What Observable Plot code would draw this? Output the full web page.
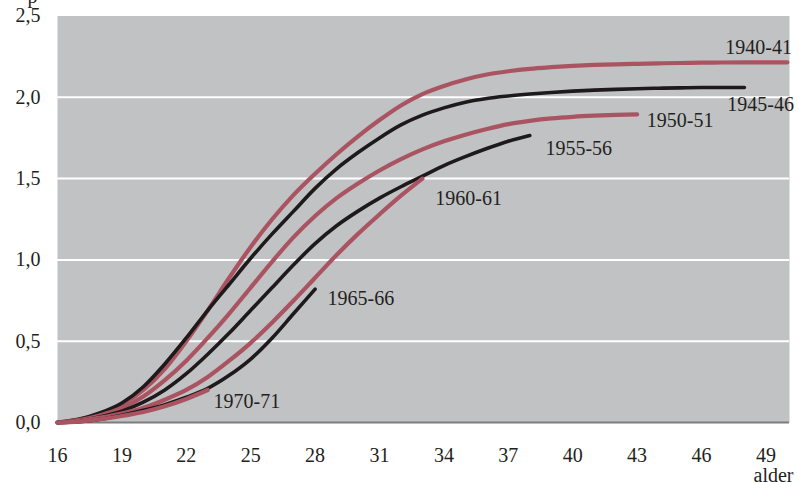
<!DOCTYPE html>
<html><head><meta charset="utf-8">
<script src="https://cdn.jsdelivr.net/npm/d3@7"></script>
<script src="https://cdn.jsdelivr.net/npm/@observablehq/plot@0.6"></script>
<style>body{margin:0;background:#fff;}</style>
</head><body><div id="chart"></div>
<script>
// Cumulative fertility by age, cohorts (all series start at age 16)
const cohorts = ["1940-41", "1945-46", "1950-51", "1955-56", "1960-61", "1965-66", "1970-71"];
const c1940_41 = [0.00,0.02,0.05,0.11,0.20,0.33,0.50,0.69,0.89,1.08,1.25,1.40,1.53,1.65,1.76,1.86,1.95,2.02,2.07,2.11,2.14,2.16,2.175,2.185,2.193,2.199,2.203,2.206,2.209,2.211,2.213,2.214,2.215,2.215,2.215];
const c1945_46 = [0.00,0.02,0.06,0.12,0.22,0.36,0.52,0.69,0.85,1.01,1.16,1.30,1.44,1.56,1.66,1.75,1.83,1.89,1.935,1.97,1.993,2.008,2.02,2.03,2.038,2.044,2.049,2.053,2.056,2.058,2.06,2.06,2.06];
const c1950_51 = [0.00,0.015,0.045,0.09,0.16,0.26,0.38,0.52,0.67,0.83,0.99,1.14,1.27,1.38,1.47,1.55,1.62,1.68,1.73,1.77,1.805,1.835,1.855,1.87,1.88,1.887,1.892,1.895];
const c1955_56 = [0.00,0.01,0.035,0.07,0.125,0.20,0.30,0.42,0.55,0.69,0.83,0.97,1.10,1.21,1.30,1.38,1.45,1.515,1.58,1.635,1.685,1.73,1.765];
const c1960_61 = [0.00,0.01,0.03,0.055,0.09,0.14,0.20,0.28,0.38,0.49,0.615,0.75,0.89,1.03,1.16,1.28,1.395,1.50];
const c1965_66 = [0.00,0.005,0.02,0.045,0.075,0.11,0.155,0.21,0.29,0.39,0.52,0.67,0.82];
const c1970_71 = [0.00,0.005,0.02,0.04,0.065,0.10,0.145,0.20];
const seriesValues = [c1940_41, c1945_46, c1950_51, c1955_56, c1960_61, c1965_66, c1970_71];
const startAge = 16;

// Label anchor points (age, value) in data units
const labelAge   = [47.11, 47.2, 43.45, 38.73, 33.6, 28.58, 23.27];
const labelValue = [2.303, 1.956, 1.857, 1.682, 1.375, 0.763, 0.129];

const xTicks = [16,19,22,25,28,31,34,37,40,43,46,49];
const yTicks = [0,0.5,1,1.5,2,2.5];
const gridValues = [0.5,1,1.5,2];
const xLabel = "alder";

const RED = "#aa5462", BLACK = "#1e1a1b";

const lineMarks = cohorts.map((c, k) => {
  const data = seriesValues[k].map((v, i) => ({age: startAge + i, value: v, cohort: c}));
  const red = k % 2 === 0;
  return Plot.line(data, {x: "age", y: "value", stroke: red ? RED : BLACK, strokeWidth: red ? 4.2 : 3.6,
    curve: "monotone-x", strokeLinecap: "round", strokeLinejoin: "round"});
});

const labels = cohorts.map((c, k) => ({text: c, age: labelAge[k], value: labelValue[k]}));

const plot = Plot.plot({
  width: 799, height: 482,
  marginLeft: 57, marginRight: 10, marginTop: 15.5, marginBottom: 60,
  style: {fontFamily: "'Liberation Serif', 'Times New Roman', serif", fontSize: "20px", color: "#231f20", background: "white"},
  x: {domain: [16, 50.1]},
  y: {domain: [0, 2.5]},
  marks: [
    Plot.frame({fill: "#c1c2c4", stroke: "none"}),
    Plot.ruleY(gridValues, {stroke: "white", strokeWidth: 2}),
    Plot.ruleY([0], {stroke: "#7d7d7d", strokeWidth: 2}),
    ...lineMarks,
    Plot.text(labels, {x: "age", y: "value", text: "text", textAnchor: "start", fill: "#231f20"}),
    Plot.axisX({ticks: xTicks, tickSize: 0, tickPadding: 25, tickFormat: d => String(d), label: null}),
    Plot.axisY({ticks: yTicks, tickSize: 0, tickPadding: 17, tickFormat: d => d3.format(".1f")(d).replace(".", ","), label: null}),
    Plot.text([xLabel], {text: d => d, frameAnchor: "bottom-right", textAnchor: "end", lineAnchor: "bottom", dx: 4, dy: 59}),
    Plot.text(["p"], {text: d => d, frameAnchor: "top-left", textAnchor: "start", lineAnchor: "bottom", dx: -30, dy: -13})
  ]
});
document.getElementById("chart").appendChild(plot);
</script>
</body></html>
